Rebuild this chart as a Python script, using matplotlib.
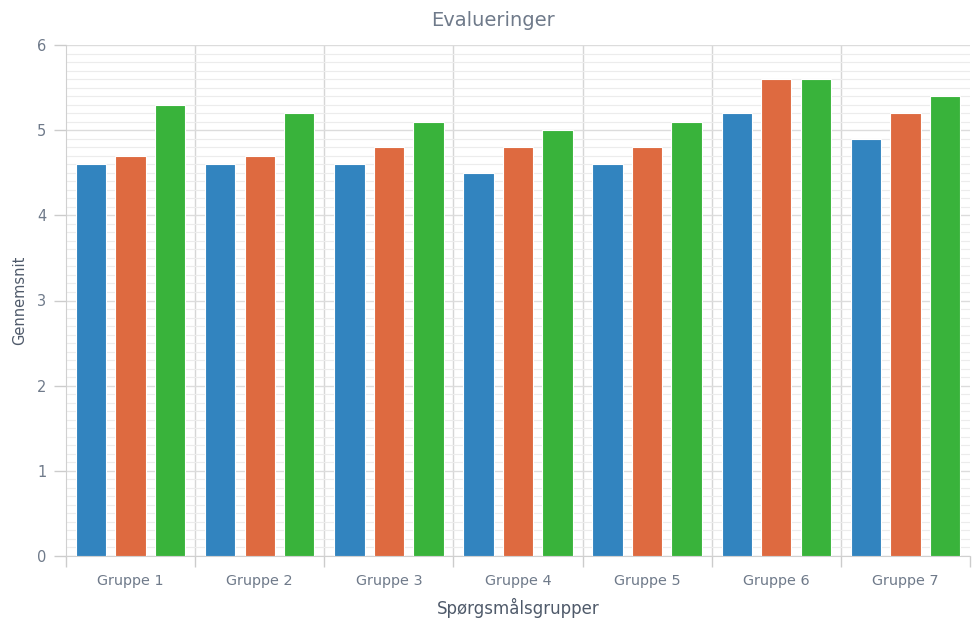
import matplotlib
matplotlib.use("Agg")
import matplotlib.pyplot as plt
import numpy as np
from matplotlib.ticker import MultipleLocator, FixedLocator

categories = ["Gruppe 1", "Gruppe 2", "Gruppe 3", "Gruppe 4", "Gruppe 5", "Gruppe 6", "Gruppe 7"]
series_a = [4.6, 4.6, 4.6, 4.5, 4.6, 5.2, 4.9]
series_b = [4.7, 4.7, 4.8, 4.8, 4.8, 5.6, 5.2]
series_c = [5.3, 5.2, 5.1, 5.0, 5.1, 5.6, 5.4]
colors = ["#3284bf", "#de6a40", "#39b33b"]

text_color = "#6f7a8a"
grid_minor = "#ececec"
grid_major = "#dcdcdc"

fig = plt.figure(figsize=(9.72, 6.2), dpi=100)
ax = fig.add_axes([66/972, 64/620, 904/972, 511/620])

x = np.arange(len(categories))
w = 0.235
off = 0.306
for i, (vals, c) in enumerate(zip([series_a, series_b, series_c], colors)):
    ax.bar(x + (i - 1) * off, vals, width=w, color=c, edgecolor="#ffffff", linewidth=0.8, zorder=3)

ax.set_xlim(-0.5, len(categories) - 0.5)
ax.set_ylim(0, 6)
ax.yaxis.set_major_locator(MultipleLocator(1))
ax.yaxis.set_minor_locator(MultipleLocator(0.1))
ax.grid(which="minor", axis="y", color=grid_minor, linewidth=0.8, zorder=0)
ax.grid(which="major", axis="y", color=grid_major, linewidth=1.0, zorder=0)

ax.set_xticks(x)
ax.set_xticklabels(categories)
ax.xaxis.set_minor_locator(FixedLocator(np.arange(-0.5, len(categories), 1.0)))
for b in np.arange(0.5, len(categories) - 0.5, 1.0):
    ax.axvline(b, color="#d6d6d6", linewidth=1.0, zorder=1)

ax.tick_params(axis="x", which="major", length=0, pad=13, labelsize=10.4, labelcolor=text_color)
ax.tick_params(axis="x", which="minor", length=8, color="#cccccc", width=1)
ax.tick_params(axis="y", which="major", length=9, color="#cccccc", width=1, pad=5, labelsize=10.5, labelcolor=text_color)
ax.tick_params(axis="y", which="minor", length=0)

for s in ["top", "right"]:
    ax.spines[s].set_visible(False)
ax.spines["left"].set_color("#d0d0d0")
ax.spines["bottom"].set_color("#d0d0d0")

fig.text(493/972, 1 - 20/620, "Evalueringer", fontsize=14, color=text_color, ha="center", va="center")
ax.set_ylabel("Gennemsnit", fontsize=10.5, color="#4f5a6a", labelpad=7)
ax.set_xlabel("Spørgsmålsgrupper", fontsize=12, color="#4f5a6a", labelpad=7)

fig.savefig("out.png", dpi=100)
